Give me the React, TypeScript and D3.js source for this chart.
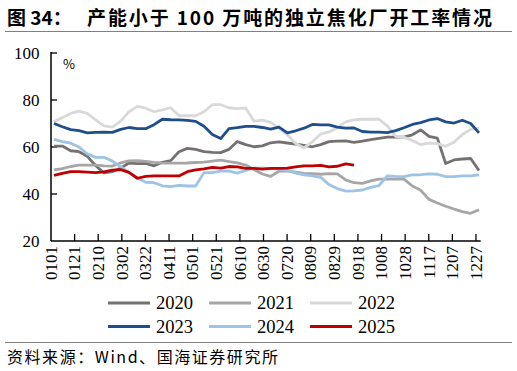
import React from "react";
import * as d3 from "d3";

const tickLabels = ["0101","0121","0210","0302","0322","0411","0501","0521","0610","0630","0720","0809","0829","0918","1008","1028","1117","1207","1227"];
const yTicks = [20, 40, 60, 80, 100];

const years = ["2020", "2021", "2022", "2023", "2024", "2025"];
const colors = ["#767171", "#a6a6a6", "#d9d9d9", "#1f4e8c", "#9dc3e6", "#c00000"];

const s2020 = [60.4,60.4,58.4,58,56,52,49,49.5,51,53.2,52.9,53,52,53.5,54.2,58,59.4,59,58,57.7,57.6,59,62.3,61,60.1,60.5,61.8,62.2,61.7,61.2,60.7,60.1,61,62.3,62.5,62.6,62,62.5,63.1,63.7,64.2,64.2,64.2,65.2,67.3,64.5,63.8,53,54.5,54.9,55.1,50];
const s2021 = [50.3,50.8,51.7,52.3,52.3,52.3,52,51.9,53.2,54.1,54.2,53.9,53.5,53.2,53.1,53.1,53.2,53.4,53.6,54,54.4,53.8,53.2,52.3,50.4,48.5,47.5,49.7,49.7,49.3,48.8,48.7,48.4,48.7,48.6,46,44.8,44.5,45.6,46.3,46.3,46.3,46.3,43.4,41.6,37.7,36.2,34.8,33.6,32.5,31.8,33.3];
const s2022 = [70.8,72.5,74.3,75.3,74.3,71.5,69,68.5,71,75,77.3,76.5,75,75.8,76.7,73.3,73.3,73.3,75,78,78,76.7,76.3,76.6,71,71.4,70.5,68,65.2,61.5,59.6,62.2,65.5,66.4,68.2,70.7,71.5,71.8,71.8,71.8,69,64.5,64.1,62.8,61,61.7,61.4,60.3,62,65.3,67.5,68];
const s2023 = [70,68.6,67.4,67,66,66.2,66.3,66.2,67.5,68.3,67.8,67.8,69.5,71.8,71.6,71.5,71.3,70.9,68.8,65.3,63.6,67.8,68.2,68.8,68.8,68.3,67.6,68.5,66,66.9,68,69.6,69.4,69.4,68.5,68,68.1,66.6,66.3,66.3,66.1,67,68.2,69.6,70.4,71.5,72.1,70.7,70.2,71.4,70,66];
const s2024 = [63.2,62.3,61.6,60,57,55.6,55.6,54,51.6,49.1,46.8,45,44.8,43.5,43.1,43.7,43.4,43.4,49.1,49.1,49.7,49.7,48.9,50,51,51,50.9,50.6,50.1,48.9,48.1,47.7,47.1,44,42.3,41.2,41.3,41.7,42.8,43.6,47.7,47.5,47.4,48.1,48.2,48.6,48.4,47.4,47.4,47.7,47.7,48.1];
const s2025 = [47.9,48.8,49.5,49.5,49.3,49.1,49.4,50.2,50.4,49.2,46.7,47.5,47.7,47.7,47.7,47.7,49.5,50.3,50.7,51.3,51,51.7,51.5,50.9,50.9,50.6,50.9,50.9,51,51.5,52,52,52.2,51.5,51.8,52.8,52.3];

const seriesList = [s2020, s2021, s2022, s2023, s2024, s2025];

const W = 517, H = 371;
const plotL = 51, plotR = 480.7, plotT = 53, plotB = 241;

export default function App() {
  const y = d3.scaleLinear().domain([20, 100]).range([plotB, plotT]);
  const xDay = d3.scaleLinear().domain([0, 364]).range([plotL, plotR]);
  const xWeek = d3.scaleLinear().domain([0, 51]).range([54, 479]);
  const line = d3.line<number>().x((_, i) => xWeek(i)).y((v) => y(v)).curve(d3.curveLinear);

  const serif = "'Liberation Serif', 'Times New Roman', serif";
  const cjk = "'Noto Sans CJK SC', 'Noto Sans', sans-serif";

  return (
    <svg width={W} height={H} style={{ position: "absolute", left: 0, top: 0, background: "#fff" }}>
      <rect x={0} y={0} width={W} height={H} fill="#fff" />
      {/* title */}
      <text x={7} y={25} fontFamily={cjk} fontWeight={700} fontSize={19} fill="#000">图 34：</text>
      <text x={87} y={25} fontFamily={cjk} fontWeight={700} fontSize={19} textLength={405} lengthAdjust="spacing" fill="#000">产能小于 100 万吨的独立焦化厂开工率情况</text>
      <line x1={5} x2={512} y1={31.5} y2={31.5} stroke="#808080" strokeWidth={1} />

      {/* y axis labels */}
      {yTicks.map((t) => (
        <text key={t} x={39.5} y={y(t)} dy="0.34em" textAnchor="end" fontFamily={serif} fontSize={17} fill="#000">{t}</text>
      ))}
      {yTicks.filter((t) => t !== 20).map((t) => (
        <line key={"yt" + t} x1={plotL} x2={plotL + 6} y1={y(t)} y2={y(t)} stroke="#000" strokeWidth={1.3} />
      ))}
      <text x={63} y={69} fontFamily={cjk} fontSize={13} fill="#000">%</text>

      {/* series */}
      {seriesList.map((s, k) => (
        <path key={years[k]} d={line(s) || ""} fill="none" stroke={colors[k]} strokeWidth={2.8} strokeLinejoin="round" />
      ))}

      {/* axes */}
      <line x1={plotL} x2={plotL} y1={plotT - 1} y2={plotB} stroke="#000" strokeWidth={1.5} />
      <line x1={plotL} x2={plotR} y1={plotB} y2={plotB} stroke="#000" strokeWidth={1.5} />
      {tickLabels.map((lab, i) => (
        <g key={lab}>
          {i > 0 && <line x1={xDay(i * 20)} x2={xDay(i * 20)} y1={plotB} y2={plotB - 7} stroke="#000" strokeWidth={1.3} />}
          <text transform={`translate(${xDay(i * 20)},${plotB + 5}) rotate(-90)`} textAnchor="end" dy="0.34em" fontFamily={serif} fontSize={17} fill="#000">{lab}</text>
        </g>
      ))}

      {/* legend */}
      {years.map((yr, k) => {
        const col = k % 3, row = Math.floor(k / 3);
        const lx = 108 + col * 101;
        const ly = 303 + row * 23.5;
        return (
          <g key={"lg" + yr}>
            <line x1={lx} x2={lx + 42} y1={ly} y2={ly} stroke={colors[k]} strokeWidth={3} />
            <text x={lx + 48} y={ly} dy="0.34em" fontFamily={serif} fontSize={18.5} fill="#000">{yr}</text>
          </g>
        );
      })}

      {/* source */}
      <line x1={5} x2={512} y1={342.5} y2={342.5} stroke="#808080" strokeWidth={1} />
      <text x={7} y={363} fontFamily={cjk} fontSize={16} textLength={271} lengthAdjust="spacing" fill="#000">资料来源：Wind、国海证券研究所</text>
    </svg>
  );
}
